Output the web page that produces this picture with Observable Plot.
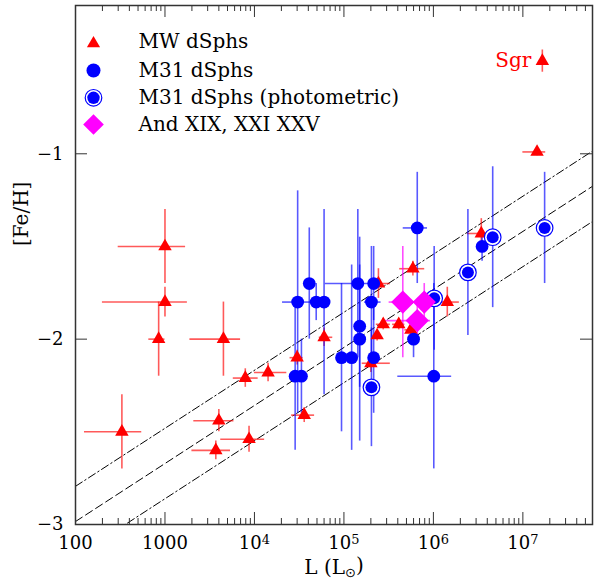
<!DOCTYPE html>
<html>
<head>
<meta charset="utf-8">
<script src="https://cdn.jsdelivr.net/npm/d3@7"></script>
<script src="https://cdn.jsdelivr.net/npm/@observablehq/plot@0.6"></script>
<style>
  html, body { margin: 0; padding: 0; background: #fff; }
  #chart svg { display: block; }
</style>
</head>
<body>
<div id="chart"></div>
<script>
// ---------------- DATA ----------------
// rows: [L (Lsun), [Fe/H], L low, L high, [Fe/H] error]
const mwDSphs = [
  [1000,   -1.50, 300,    1700,   0.20],
  [1000,   -1.80, 200,    1780,   0.08],
  [850,    -2.00, 660,    1000,   0.20],
  [4500,   -2.00, 1900,   7000,   0.20],
  [7900,   -2.21, 5800,   11000,  0.05],
  [14200,  -2.18, 10000,  23000,  0.05],
  [330,    -2.50, 126,    550,    0.20],
  [4000,   -2.44, 2100,   5900,   0.06],
  [3700,   -2.60, 2000,   5400,   0.05],
  [8700,   -2.54, 4200,   13000,  0.07],
  [36000,  -2.41, 26000,  47000,  0.04],
  [30000,  -2.10, 25000,  35000,  0.04],
  [60000,  -1.99, 53000,  75000,  0.05],
  [1.44e7, -0.99, 1.0e7,  1.8e7,  0.02],
  [1.65e7, -0.50, 1.65e7, 1.65e7, 0.06],
  [3.43e6, -1.43, 2.4e6,  3.9e6,  0.08],
  [5.9e5,  -1.62, 4.2e5,  8.0e5,  0.04],
  [1.43e6, -1.80, 1.07e6, 1.95e6, 0.08],
  [2.43e5, -1.70, 2.2e5,  3.3e5,  0.08],
  [2.75e5, -1.92, 2.3e5,  3.3e5,  0.03],
  [4.1e5,  -1.92, 3.5e5,  4.8e5,  0.03],
  [2.35e5, -1.98, 2.1e5,  2.6e5,  0.03],
  [5.6e5,  -1.95, 4.8e5,  6.5e5,  0.05],
  [2.0e5,  -2.13, 1.6e5,  3.3e5,  0.05]
];
const mwLabels = [[1.65e7, -0.50, "Sgr"]];

const m31DSphs = [
  [41000,  -1.70, 41000,  41000,  0.30],
  [30400,  -1.80, 20600,  44000,  0.60],
  [49000,  -1.80, 49000,  49000,  0.10],
  [60000,  -1.80, 60000,  60000,  0.50],
  [1.43e5, -1.70, 62000,  2.0e5,  0.40],
  [2.15e5, -1.70, 2.15e5, 2.15e5, 0.20],
  [2.03e5, -1.80, 1.7e5,  2.6e5,  0.30],
  [1.5e5,  -1.93, 1.5e5,  1.5e5,  0.33],
  [1.5e5,  -2.00, 1.5e5,  1.5e5,  0.55],
  [9.4e4,  -2.10, 9.4e4,  9.4e4,  0.40],
  [1.22e5, -2.10, 1.22e5, 1.22e5, 0.50],
  [2.15e5, -2.10, 2.15e5, 2.15e5, 0.30],
  [6.0e5,  -2.00, 6.0e5,  6.0e5,  0.10],
  [6.6e5,  -1.40, 4.6e5,  8.6e5,  0.30],
  [1.01e6, -2.20, 4.0e5,  1.6e6,  0.50],
  [3.5e6,  -1.50, 3.5e6,  3.5e6,  0.08],
  [28500,  -2.20, 28500,  28500,  0.40],
  [33500,  -2.20, 33500,  33500,  0.20]
];

const m31Photometric = [
  [4.6e6,  -1.45, 4.6e6,  4.6e6,  0.38],
  [1.75e7, -1.40, 1.75e7, 1.75e7, 0.30],
  [2.43e6, -1.64, 2.43e6, 2.43e6, 0.34],
  [1.02e6, -1.78, 1.02e6, 1.02e6, 0.28],
  [2.03e5, -2.26, 2.03e5, 2.03e5, 0.32]
];

const andXIX_XXI_XXV = [
  [4.55e5, -1.80, 3.2e5,  6.5e5,  0.30],
  [7.9e5,  -1.80, 7.9e5,  7.9e5,  0.10],
  [6.6e5,  -1.90, 2.9e5,  9.3e5,  0.10]
];

// luminosity–metallicity relation (dashed) and its scatter (dash-dot)
const fitPivotL = 1e5;
const fitIntercept = -2.045;
const fitSlope = 0.313;
const fitScatter = 0.19;
const fitRangeL = [100, 6e7];

// axes
const xDomain = [100, 6e7];
const yDomain = [-3, -0.2];
const xMajorTicks = [100, 1000, 1e4, 1e5, 1e6, 1e7];
const xTickLabels = ["100", "1000", "10⁴", "10⁵", "10⁶", "10⁷"];
const yMajorTicks = [-3, -2, -1];
const yTickLabels = ["−3", "−2", "−1"];
const xMinorTicks = d3.range(2, 8).flatMap(k => d3.range(2, 10).map(m => m * 10 ** k)).filter(v => v < xDomain[1] && !xMajorTicks.includes(v));

const legendLabels = ["MW dSphs", "M31 dSphs", "M31 dSphs (photometric)", "And XIX, XXI XXV"];
const xLabel = "L (L⊙)";
const yLabel = "[Fe/H]";

// ---------------- BUILD ----------------
const toRows = arr => arr.map(([L, feh, lLo, lHi, err]) => ({L, feh, lLo, lHi, fLo: feh - err, fHi: feh + err}));
const mw = toRows(mwDSphs);
const m31 = toRows(m31DSphs);
const phot = toRows(m31Photometric);
const andD = toRows(andXIX_XXI_XXV);
const labels = mwLabels.map(([L, feh, name]) => ({L, feh, name}));

const fitLine = off => fitRangeL.map(L => ({L, feh: fitIntercept + off + fitSlope * (Math.log10(L) - Math.log10(fitPivotL))}));

const W = 594, H = 581, mL = 75, mR = 2, mT = 5, mB = 57;
const fW = W - mL - mR, fH = H - mT - mB;
const FONT = "'DejaVu Serif', 'Liberation Serif', serif";
const axisColor = "#333";

const errBars = (rows, color, op) => [
  Plot.ruleY(rows, {y: "feh", x1: "lLo", x2: "lHi", stroke: color, strokeOpacity: op, strokeWidth: 1.6}),
  Plot.ruleX(rows, {x: "L", y1: "fLo", y2: "fHi", stroke: color, strokeOpacity: op, strokeWidth: 1.6})
];

const legendRowsDy = [36.5, 65, 92.3, 119];
const legendSymX = 18, legendTextX = 63;

const chart = Plot.plot({
  width: W, height: H,
  marginLeft: mL, marginRight: mR, marginTop: mT, marginBottom: mB,
  style: {fontFamily: FONT, fontSize: "18px", background: "white", color: "black"},
  x: {type: "log", domain: xDomain, ticks: xMajorTicks, tickSize: 0, tickPadding: 12,
      tickFormat: d => xTickLabels[xMajorTicks.indexOf(d)], label: null},
  y: {domain: yDomain, ticks: yMajorTicks, tickSize: 0, tickPadding: 12,
      tickFormat: d => yTickLabels[yMajorTicks.indexOf(d)], label: null},
  marks: [
    // relation lines
    Plot.line(fitLine(0), {x: "L", y: "feh", stroke: "black", strokeWidth: 1, strokeDasharray: "8,4", clip: true}),
    Plot.line(fitLine(fitScatter), {x: "L", y: "feh", stroke: "black", strokeWidth: 1, strokeDasharray: "8,3,1.5,3", clip: true}),
    Plot.line(fitLine(-fitScatter), {x: "L", y: "feh", stroke: "black", strokeWidth: 1, strokeDasharray: "8,3,1.5,3", clip: true}),
    // error bars
    ...errBars(mw, "red", 0.65),
    ...errBars(m31, "blue", 0.65),
    ...errBars(phot, "blue", 0.65),
    ...errBars(andD, "magenta", 0.7),
    // markers
    Plot.dot(mw, {x: "L", y: "feh", symbol: "triangle", fill: "red", r: 5}),
    Plot.dot(m31, {x: "L", y: "feh", fill: "blue", r: 6.4}),
    Plot.dot(phot, {x: "L", y: "feh", fill: "white", stroke: "blue", strokeWidth: 1.2, r: 8.3}),
    Plot.dot(phot, {x: "L", y: "feh", fill: "blue", r: 6}),
    Plot.dot(andD, {x: "L", y: "feh", symbol: "diamond2", fill: "magenta", r: 10.5}),
    Plot.text(labels, {x: "L", y: "feh", text: "name", dx: -11, dy: -1, textAnchor: "end", fill: "red", fontSize: 20}),
    // ticks (inward) on all four sides
    Plot.ruleX(xMajorTicks, {x: d => d, insetTop: fH - 12, stroke: axisColor}),
    Plot.ruleX(xMinorTicks, {x: d => d, insetTop: fH - 6, stroke: axisColor}),
    Plot.ruleX(xMajorTicks, {x: d => d, insetBottom: fH - 12, stroke: axisColor}),
    Plot.ruleX(xMinorTicks, {x: d => d, insetBottom: fH - 6, stroke: axisColor}),
    Plot.ruleY(yMajorTicks, {y: d => d, insetRight: fW - 12, stroke: axisColor}),
    Plot.ruleY(yMajorTicks, {y: d => d, insetLeft: fW - 12, stroke: axisColor}),
    Plot.frame({stroke: axisColor, strokeWidth: 1.5}),
    // axis titles
    Plot.text([xLabel], {frameAnchor: "bottom", dy: 43, text: d => d, fontSize: 20, lineAnchor: "middle"}),
    Plot.text([yLabel], {frameAnchor: "left", dx: -54, dy: -19, rotate: -90, text: d => d, fontSize: 20, lineAnchor: "middle"}),
    // legend
    Plot.dot([0], {frameAnchor: "top-left", dx: legendSymX, dy: legendRowsDy[0] + 1.5, symbol: "triangle", fill: "red", r: 4.9}),
    Plot.dot([0], {frameAnchor: "top-left", dx: legendSymX, dy: legendRowsDy[1], fill: "blue", r: 7}),
    Plot.dot([0], {frameAnchor: "top-left", dx: legendSymX, dy: legendRowsDy[2], fill: "white", stroke: "blue", strokeWidth: 1.2, r: 8.3}),
    Plot.dot([0], {frameAnchor: "top-left", dx: legendSymX, dy: legendRowsDy[2], fill: "blue", r: 6.2}),
    Plot.dot([0], {frameAnchor: "top-left", dx: legendSymX, dy: legendRowsDy[3], symbol: "diamond2", fill: "magenta", r: 9.3}),
    ...legendLabels.map((lab, i) => Plot.text([lab], {frameAnchor: "top-left", dx: legendTextX, dy: legendRowsDy[i], text: d => d, textAnchor: "start", lineAnchor: "middle", fontSize: 20}))
  ]
});

document.getElementById("chart").appendChild(chart);

// typographic touches: superscript exponents and the solar subscript
const supMap = {"⁰":"0","¹":"1","²":"2","³":"3","⁴":"4","⁵":"5","⁶":"6","⁷":"7","⁸":"8","⁹":"9"};
d3.select(chart).selectAll("text").each(function () {
  const t = this.textContent;
  const m = t.match(/^10([⁰¹²³⁴⁵⁶⁷⁸⁹])$/);
  if (m && this.childElementCount === 0) {
    const s = d3.select(this);
    s.text("10");
    s.append("tspan").attr("dy", "-0.42em").attr("font-size", "0.72em").text(supMap[m[1]]);
  } else if (t === xLabel && this.childElementCount === 0) {
    const s = d3.select(this);
    s.text("L (L");
    s.append("tspan").attr("dy", "0.25em").attr("font-size", "0.65em").attr("font-family", "'DejaVu Sans', sans-serif").text("⊙");
    s.append("tspan").attr("dy", "-0.25em").text(")");
  }
});
</script>
</body>
</html>
